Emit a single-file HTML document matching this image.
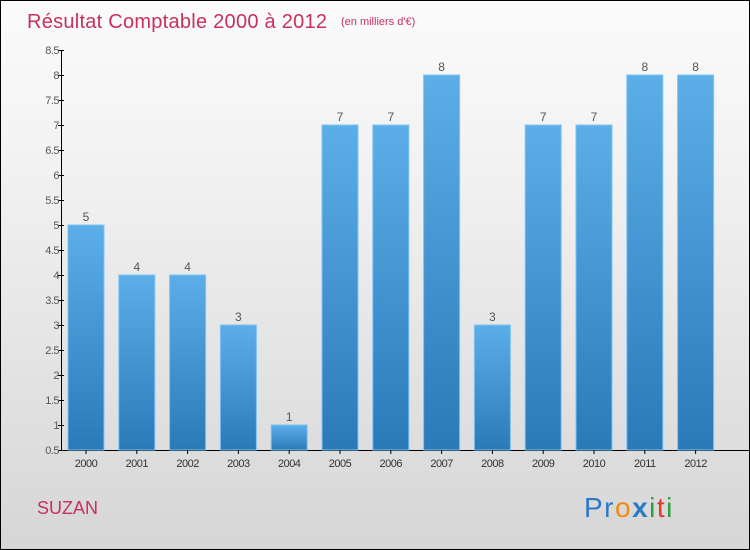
<!DOCTYPE html>
<html><head><meta charset="utf-8"><style>
body{margin:0;width:750px;height:550px;overflow:hidden}
#c{position:relative;width:748px;height:548px;border:1px solid #000;background:linear-gradient(#fbfbfb 0%,#f2f2f2 30%,#d6d6d6 100%)}
</style></head><body>
<div id="c">
<svg width="748" height="548" style="position:absolute;left:0;top:0" font-family="Liberation Sans, DejaVu Sans, sans-serif">
<defs><linearGradient id="bg" x1="0" y1="0" x2="0" y2="1"><stop offset="0" stop-color="#5caee8"/><stop offset="1" stop-color="#2a7ab8"/></linearGradient></defs>
<text x="26" y="27" font-size="20" fill="#c8305e" textLength="300">Résultat Comptable 2000 à 2012</text>
<text x="340" y="24" font-size="11" fill="#c8305e">(en milliers d'€)</text>
<text x="36" y="513" font-size="18" fill="#c8305e">SUZAN</text>
<g font-size="28">
<text x="583" y="516" letter-spacing="1.5"><tspan fill="#2a7ac8">Pr</tspan><tspan fill="#f08a10">o</tspan><tspan fill="#2a7ac8" font-weight="bold">x</tspan><tspan fill="#2aa040">i</tspan><tspan fill="#e03a2a">t</tspan><tspan fill="#2aa040">i</tspan></text></g>
<g id="plot"></g>
</svg></div>
<script>
const categories=["2000","2001","2002","2003","2004","2005","2006","2007","2008","2009","2010","2011","2012"];
const values=[5,4,4,3,1,7,7,8,3,7,7,8,8];
const tickValues=[0.5,1,1.5,2,2.5,3,3.5,4,4.5,5,5.5,6,6.5,7,7.5,8,8.5];
const tickLabels=["0.5","1","1.5","2","2.5","3","3.5","4","4.5","5","5.5","6","6.5","7","7.5","8","8.5"];
const NS="http://www.w3.org/2000/svg";
const g=document.getElementById('plot');
const y=v=>449-(v-0.5)*50;
const x=i=>67+i*50.8;
function mk(t,a,txt){const e=document.createElementNS(NS,t);for(const k in a)e.setAttribute(k,a[k]);if(txt!=null)e.textContent=txt;g.appendChild(e);return e;}
const ax=mk('line',{x1:60.5,y1:y(8.5),x2:60.5,y2:449.5,stroke:'#000'});


const bx=mk('line',{x1:60.5,y1:449.5,x2:748,y2:449.5,stroke:'#000'});


tickValues.forEach((v,i)=>{
 const t=mk('line',{x1:57,x2:63,y1:y(v)+0.5,y2:y(v)+0.5,stroke:'#000'});
 
 
 const l=mk('text',{x:58,y:y(v)+4,'font-size':11,'text-anchor':'end',fill:'#555','letter-spacing':'-0.5'},tickLabels[i]);
 
 
});
categories.forEach((c,i)=>{
 const top=y(values[i]);
 const r=mk('rect',{x:x(i),y:top,width:36,height:449-top,fill:'url(#bg)',stroke:'#7cc4f4','stroke-width':1});
 
 
 const v=mk('text',{x:x(i)+18,y:top-4,'font-size':12,'text-anchor':'middle',fill:'#555'},String(values[i]));
 
 
 const l=mk('text',{x:x(i)+18,y:466,'font-size':11,'text-anchor':'middle',fill:'#333','letter-spacing':'-0.5'},c);
 
 
 const t=mk('line',{x1:x(i)+18,x2:x(i)+18,y1:449,y2:453,stroke:'#000'});
 
 
});
</script>
</body></html>
